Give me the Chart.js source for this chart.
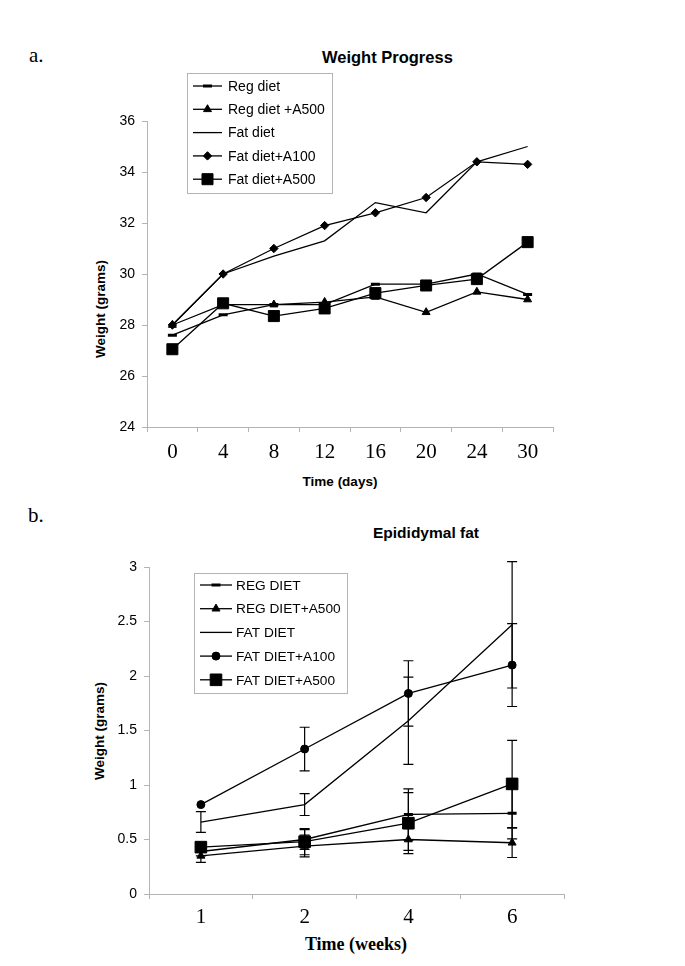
<!DOCTYPE html>
<html lang="en">
<head>
<meta charset="UTF-8">
<title>Weight Progress / Epididymal fat</title>
<script src="https://cdn.jsdelivr.net/npm/chart.js"></script>
<style>
  body { margin: 0; background: #fff; }
  #page { position: relative; width: 685px; height: 966px; overflow: hidden; }
  canvas { position: absolute; left: 0; }
  .txt { position: absolute; white-space: nowrap; line-height: 1; color: #000; }
  .serif { font-family: 'Liberation Serif', 'Times New Roman', serif; }
  .sans { font-family: 'Liberation Sans', Arial, sans-serif; font-weight: bold; }
  .rot { transform: translate(-50%, -50%) rotate(-90deg); }
</style>
</head>
<body>
<div id="page">
  <div class="txt serif" style="left:29px; top:45px; font-size:21px;">a.</div>
  <div class="txt sans" style="left:322px; top:49px; font-size:16.5px;">Weight Progress</div>
  <div class="txt sans rot" style="left:101px; top:309px; font-size:13.5px;">Weight (grams)</div>
  <div class="txt sans" style="left:340px; top:475px; font-size:13.5px; transform:translateX(-50%);">Time (days)</div>
  <canvas id="chartA" width="685" height="500" style="top:0;"></canvas>

  <div class="txt serif" style="left:28px; top:505px; font-size:21px;">b.</div>
  <div class="txt sans" style="left:373px; top:525px; font-size:15.5px;">Epididymal fat</div>
  <div class="txt sans rot" style="left:100px; top:731px; font-size:13.5px;">Weight (grams)</div>
  <div class="txt serif" style="left:356px; top:935px; font-size:18px; font-weight:bold; transform:translateX(-50%);">Time (weeks)</div>
  <canvas id="chartB" width="685" height="466" style="top:500px;"></canvas>
</div>
<script>
// panel a - weight progress (grams)
const days = ['0', '4', '8', '12', '16', '20', '24', '30'];
const regDiet = [27.6, 28.4, 28.8, 28.8, 29.6, 29.6, 30.0, 29.2];
const regDietA500 = [28.0, 28.8, 28.8, 28.9, 29.1, 28.5, 29.3, 29.0];
const fatDiet = [28.0, 30.0, 30.7, 31.3, 32.8, 32.4, 34.4, 35.0];
const fatDietA100 = [28.0, 30.0, 31.0, 31.9, 32.4, 33.0, 34.4, 34.3];
const fatDietA500 = [27.05, 28.85, 28.35, 28.65, 29.25, 29.55, 29.8, 31.25];
const weightTicks = [24, 26, 28, 30, 32, 34, 36];

// panel b - epididymal fat (grams) with error bars
const weeks = ['1', '2', '4', '6'];
const epiReg = [0.39, 0.50, 0.73, 0.74];
const epiRegErr = [0.04, 0.09, 0.235, 0.235];
const epiRegA500 = [0.35, 0.44, 0.50, 0.47];
const epiRegA500Err = [0.06, 0.10, 0.10, 0.135];
const epiFat = [0.66, 0.82, 1.59, 2.47];
const epiFatErr = [0.095, 0.10, 0.40, 0.58];
const epiFatA100 = [0.82, 1.33, 1.84, 2.10];
const epiFatA100Err = [0, 0.20, 0.30, 0.38];
const epiFatA500 = [0.43, 0.48, 0.65, 1.01];
const epiFatA500Err = [0, 0.12, 0.28, 0.40];
const fatTicks = [0, 0.5, 1, 1.5, 2, 2.5, 3];

const axisGrey = '#b4b4b4';

// draws vertical error bars from dataset.errorBars
const errorBars = {
  id: 'errorBars',
  beforeDatasetsDraw(chart) {
    const ctx = chart.ctx;
    const y = chart.scales.y;
    ctx.save();
    ctx.strokeStyle = '#000';
    ctx.lineWidth = 1.2;
    chart.data.datasets.forEach((ds, i) => {
      if (!ds.errorBars) return;
      const meta = chart.getDatasetMeta(i);
      meta.data.forEach((pt, j) => {
        const e = ds.errorBars[j];
        if (!e) return;
        const top = y.getPixelForValue(ds.data[j] + e);
        const bot = y.getPixelForValue(ds.data[j] - e);
        ctx.beginPath();
        ctx.moveTo(pt.x, top); ctx.lineTo(pt.x, bot);
        ctx.moveTo(pt.x - 5, top); ctx.lineTo(pt.x + 5, top);
        ctx.moveTo(pt.x - 5, bot); ctx.lineTo(pt.x + 5, bot);
        ctx.stroke();
      });
    });
    ctx.restore();
  }
};

// boxed legend placed inside the plot, like the original
const boxLegend = {
  id: 'boxLegend',
  afterDraw(chart, args, o) {
    const ctx = chart.ctx;
    ctx.save();
    ctx.fillStyle = '#fff';
    ctx.fillRect(o.x, o.y, o.w, o.h);
    ctx.strokeStyle = axisGrey;
    ctx.lineWidth = 1;
    ctx.strokeRect(o.x + 0.5, o.y + 0.5, o.w, o.h);
    ctx.font = o.fontSize + 'px "Liberation Sans", Arial, sans-serif';
    ctx.textBaseline = 'middle';
    chart.data.datasets.forEach((ds, i) => {
      const cy = o.firstRow + i * o.rowGap;
      ctx.strokeStyle = '#000';
      ctx.fillStyle = '#000';
      ctx.lineWidth = ds.borderWidth;
      ctx.beginPath();
      ctx.moveTo(o.lineX0, cy);
      ctx.lineTo(o.lineX1, cy);
      ctx.stroke();
      if (ds.pointRadius > 0) {
        ctx.lineWidth = ds.pointBorderWidth;
        Chart.helpers.drawPoint(ctx, {
          pointStyle: ds.pointStyle, radius: ds.pointRadius,
          borderWidth: ds.pointBorderWidth, rotation: 0
        }, (o.lineX0 + o.lineX1) / 2, cy);
      }
      ctx.fillStyle = '#000';
      ctx.fillText(ds.label, o.textX, cy + 1);
    });
    ctx.restore();
  }
};

function series(label, data, style, radius, bw, err) {
  return {
    label: label, data: data,
    borderColor: '#000', backgroundColor: '#000', borderWidth: 1.3,
    pointStyle: style, pointRadius: radius, pointHoverRadius: radius,
    pointBackgroundColor: '#000', pointBorderColor: '#000', pointBorderWidth: bw,
    tension: 0, errorBars: err
  };
}

function scalesFor(ticks, xFont, xPad) {
  return {
    x: {
      offset: true,
      grid: { offset: true, drawOnChartArea: false, color: axisGrey, tickLength: 5 },
      border: { color: axisGrey },
      ticks: { color: '#000', padding: xPad, font: { family: 'Liberation Serif', size: xFont } },
      afterFit: s => { s.height = 45; }
    },
    y: {
      min: ticks[0], max: ticks[ticks.length - 1],
      grid: { drawOnChartArea: false, color: axisGrey, tickLength: 5 },
      border: { color: axisGrey },
      ticks: { color: '#000', padding: 7, stepSize: ticks[1] - ticks[0],
               callback: v => String(+v.toFixed(2)),
               font: { family: 'Liberation Sans', size: 14 } },
      afterFit: s => { s.width = 50; }
    }
  };
}

new Chart(document.getElementById('chartA'), {
  type: 'line',
  data: {
    labels: days,
    datasets: [
      series('Reg diet', regDiet, 'line', 4.5, 3),
      series('Reg diet +A500', regDietA500, 'triangle', 4.6, 1),
      series('Fat diet', fatDiet, 'circle', 0, 1),
      series('Fat diet+A100', fatDietA100, 'rectRot', 4.2, 1),
      series('Fat diet+A500', fatDietA500, 'rect', 7.8, 1)
    ]
  },
  options: {
    responsive: false, animation: false,
    layout: { padding: { left: 97, right: 132, top: 121, bottom: 28 } },
    scales: scalesFor(weightTicks, 21, 8),
    plugins: {
      legend: { display: false }, tooltip: { enabled: false },
      boxLegend: { x: 187, y: 73, w: 145, h: 120, firstRow: 86, rowGap: 23.3,
                   lineX0: 193, lineX1: 222, textX: 228, fontSize: 14 }
    }
  },
  plugins: [boxLegend]
});

new Chart(document.getElementById('chartB'), {
  type: 'line',
  data: {
    labels: weeks,
    datasets: [
      series('REG DIET', epiReg, 'line', 4.5, 3, epiRegErr),
      series('REG DIET+A500', epiRegA500, 'triangle', 4.6, 1, epiRegA500Err),
      series('FAT DIET', epiFat, 'circle', 0, 1, epiFatErr),
      series('FAT DIET+A100', epiFatA100, 'circle', 4, 1, epiFatA100Err),
      series('FAT DIET+A500', epiFatA500, 'rect', 8.2, 1, epiFatA500Err)
    ]
  },
  options: {
    responsive: false, animation: false,
    layout: { padding: { left: 99, right: 121, top: 67, bottom: 27 } },
    scales: scalesFor(fatTicks, 21, 6),
    plugins: {
      legend: { display: false }, tooltip: { enabled: false },
      boxLegend: { x: 194, y: 73, w: 153, h: 120, firstRow: 85, rowGap: 23.7,
                   lineX0: 200, lineX1: 232, textX: 236, fontSize: 13.7 }
    }
  },
  plugins: [errorBars, boxLegend]
});
</script>
</body>
</html>
